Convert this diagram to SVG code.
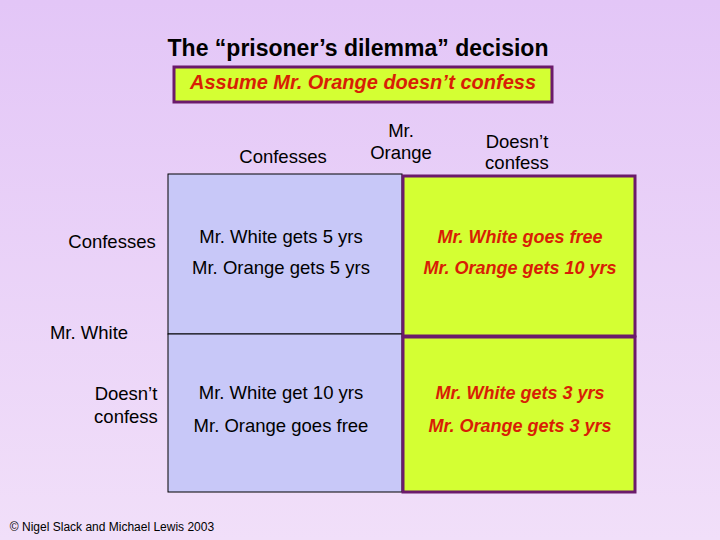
<svg xmlns="http://www.w3.org/2000/svg" width="720" height="540" viewBox="0 0 720 540">
<defs>
<linearGradient id="bg" x1="0" y1="0" x2="0" y2="1"><stop offset="0" stop-color="#e3c6f7"/><stop offset="1" stop-color="#f1dff9"/></linearGradient>
<style>
text{font-family:"Liberation Sans",Arial,sans-serif;fill:#000;}
.h{font-size:18.5px;text-anchor:middle}
.b{font-size:18.5px;text-anchor:middle}
.r{font-size:18px;text-anchor:middle;font-style:italic;font-weight:bold;fill:#d81e05}
.blue{fill:#c8c8f8;stroke:#000;stroke-width:1}
.green{fill:#d4ff33;stroke:#6b1a6b;stroke-width:3}
</style>
</defs>
<rect width="720" height="540" fill="url(#bg)"/>
<g id="title"><text x="358" y="56" style="font-size:23px;font-weight:bold;text-anchor:middle">The “prisoner’s dilemma” decision</text></g>
<g id="assume"><rect x="174" y="67" width="378" height="35" class="green"/><text x="363" y="89" class="r" style="font-size:20px">Assume Mr. Orange  doesn’t confess</text></g>
<g id="headers">
<text x="283" y="163" class="h">Confesses</text>
<text x="401" y="137" class="h">Mr.</text><text x="401" y="159" class="h">Orange</text>
<text x="517" y="148" class="h">Doesn’t</text><text x="517" y="169" class="h">confess</text>
<text x="112" y="248" class="h">Confesses</text>
<text x="89" y="339" class="h">Mr. White</text>
<text x="126" y="400" class="h">Doesn’t</text><text x="126" y="423" class="h">confess</text>
</g>
<g id="cell-cc"><rect x="168" y="174" width="234" height="160" class="blue"/><text x="281" y="243" class="b">Mr. White gets 5 yrs</text><text x="281" y="274" class="b">Mr. Orange gets 5 yrs</text></g>
<g id="cell-cd"><rect x="168" y="334" width="234" height="158" class="blue"/><text x="281" y="399" class="b">Mr. White get 10 yrs</text><text x="281" y="432" class="b">Mr. Orange goes free</text></g>
<g id="cell-dc"><rect x="403" y="176" width="232" height="160" class="green"/><text x="520" y="243" class="r">Mr. White goes free</text><text x="520" y="274" class="r">Mr. Orange gets 10 yrs</text></g>
<g id="cell-dd"><rect x="403" y="337" width="232" height="155" class="green"/><text x="520" y="399" class="r">Mr. White gets 3 yrs</text><text x="520" y="432" class="r">Mr. Orange gets 3 yrs</text></g>
<g id="connectors"/>
<text x="112" y="531" style="font-size:12px;text-anchor:middle">© Nigel Slack and Michael Lewis 2003</text>
</svg>
